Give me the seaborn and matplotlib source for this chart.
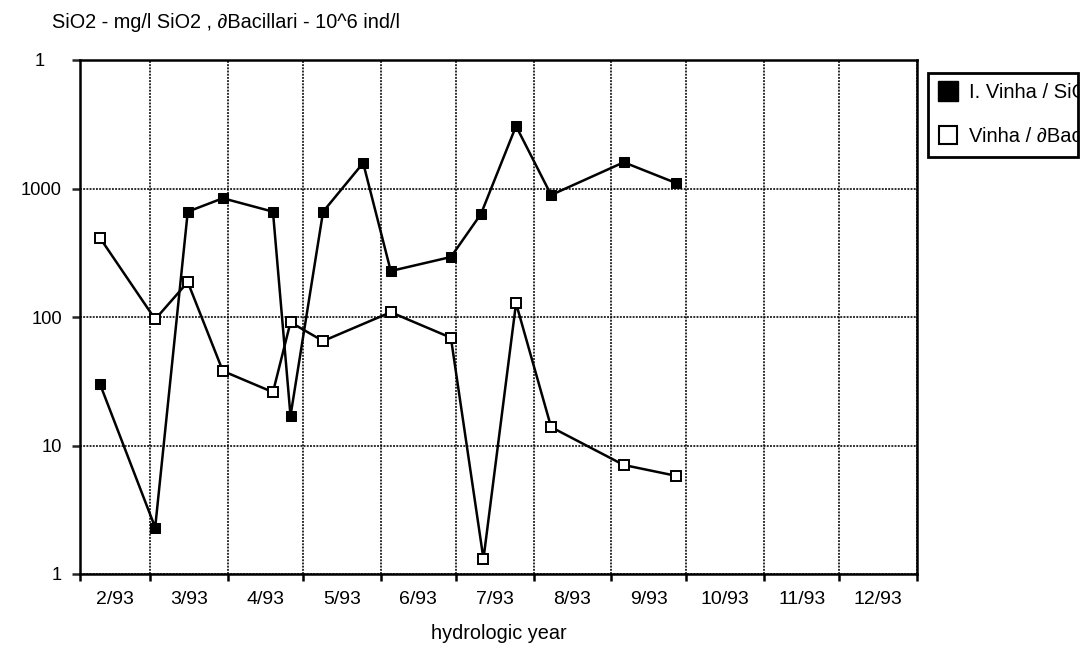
import matplotlib
matplotlib.use("Agg")
import matplotlib.pyplot as plt
import matplotlib.dates as mdates
import matplotlib.transforms as mtransforms
from matplotlib.lines import Line2D
from matplotlib.patches import Rectangle
import pandas as pd
import seaborn as sns

# Sampling dates and values for the two series
sio2_dates = ["1993-02-09", "1993-03-03", "1993-03-16", "1993-03-30", "1993-04-19",
              "1993-04-26", "1993-05-09", "1993-05-25", "1993-06-05", "1993-06-29",
              "1993-07-11", "1993-07-25", "1993-08-08", "1993-09-06", "1993-09-27"]
sio2_values = [30, 2.3, 660, 840, 660, 17, 660, 1580, 228, 293, 633, 3060, 890, 1600, 1100]

bac_dates = ["1993-02-09", "1993-03-03", "1993-03-16", "1993-03-30", "1993-04-19",
             "1993-04-26", "1993-05-09", "1993-06-05", "1993-06-29", "1993-07-12",
             "1993-07-25", "1993-08-08", "1993-09-06", "1993-09-27"]
bac_values = [412, 96, 187, 38, 26, 91, 65, 109, 69, 1.31, 128, 13.9, 7.05, 5.8]

month_starts = pd.date_range("1993-02-01", "1994-01-01", freq="MS")
month_labels = ["2/93", "3/93", "4/93", "5/93", "6/93", "7/93", "8/93",
                "9/93", "10/93", "11/93", "12/93"]
y_ticks = [1, 10, 100, 1000, 10000]
y_labels = ["1", "10", "100", "1000", "1"]

title = "SiO2 - mg/l SiO2 , \u2202Bacillari - 10^6 ind/l"
legend_labels = ["I. Vinha / SiO2", "Vinha / \u2202Bacillari"]
x_label = "hydrologic year"

sns.set_style("white")
plt.rcParams["font.family"] = ["Liberation Sans", "DejaVu Sans"]
plt.rcParams["text.color"] = "black"

W, H = 1086, 646
fig = plt.figure(figsize=(W / 100, H / 100), dpi=100)
ax = fig.add_axes([80 / W, 1 - 574 / H, (917 - 80) / W, (574 - 60) / H])

df_s = pd.DataFrame({"date": pd.to_datetime(sio2_dates), "value": sio2_values})
df_b = pd.DataFrame({"date": pd.to_datetime(bac_dates), "value": bac_values})

ax.set_yscale("log")
sns.lineplot(data=df_s, x="date", y="value", ax=ax, color="black", lw=1.8,
             marker="s", markersize=7, markerfacecolor="black",
             markeredgecolor="black", estimator=None, sort=False, legend=False)
sns.lineplot(data=df_b, x="date", y="value", ax=ax, color="black", lw=1.8,
             marker="s", markersize=7, markerfacecolor="white",
             markeredgecolor="black", markeredgewidth=1.4,
             estimator=None, sort=False, legend=False)

ax.set_ylim(1, 10000)
ax.set_xlim(month_starts[0], month_starts[-1])

# Month boundaries carry the grid; labels sit mid-month
bounds = mdates.date2num(month_starts)
mids = (bounds[:-1] + bounds[1:]) / 2
ax.set_xticks(bounds)
ax.set_xticklabels([])
ax.set_xticks(mids, minor=True)
ax.set_xticklabels(month_labels, minor=True)
ax.tick_params(axis="x", which="major", direction="out", length=5, width=1.8,
               color="black", bottom=True)
ax.tick_params(axis="x", which="minor", length=0, pad=12, labelsize=14,
               labelcolor="black", bottom=True)

ax.set_yticks(y_ticks)
ax.set_yticklabels(y_labels)
ax.yaxis.set_minor_locator(matplotlib.ticker.NullLocator())
ax.tick_params(axis="y", which="major", direction="out", length=6, width=1.8,
               pad=7, labelsize=13.2, labelcolor="black", left=True)
top_lab = ax.get_yticklabels()[-1]
top_lab.set_transform(top_lab.get_transform() +
                      mtransforms.ScaledTranslation(-0.17, 0, fig.dpi_scale_trans))

ax.grid(True, which="major", color="black", linestyle=(0, (1.2, 0.8)), lw=1.15)
for sp in ax.spines.values():
    sp.set_visible(True)
    sp.set_color("black")
    sp.set_linewidth(1.8)

ax.set_xlabel(x_label, fontsize=14.3, labelpad=11.5, color="black")
ax.set_ylabel("")

fig.text(52 / W, 1 - 22 / H, title, fontsize=14.3, ha="left", va="center")

# Legend inside a fixed box; long labels are cut at its right edge
box = Rectangle((928 / W, 1 - 157 / H), 150 / W, 84 / H, transform=fig.transFigure,
                fill=False, edgecolor="black", lw=2)
fig.add_artist(box)
handles = [
    Line2D([], [], ls="none", marker="s", markersize=14.5, markerfacecolor="black",
           markeredgecolor="black"),
    Line2D([], [], ls="none", marker="s", markersize=13.5, markerfacecolor="white",
           markeredgecolor="black", markeredgewidth=1.5),
]
leg = fig.legend(handles, legend_labels, loc="upper left",
                 bbox_to_anchor=(931 / W, 1 - 77 / H), frameon=False,
                 fontsize=14.5, handlelength=1.1, handletextpad=0.5,
                 borderpad=0.3, labelspacing=1.25, borderaxespad=0)
for t in leg.get_texts():
    t.set_clip_path(box)

fig.savefig("out.png", dpi=100, facecolor="white")
